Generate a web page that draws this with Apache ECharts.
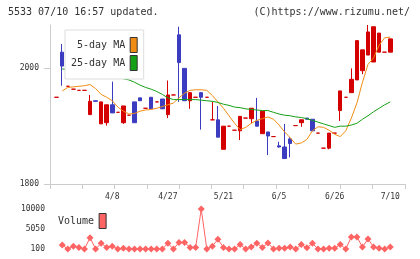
<!DOCTYPE html>
<html>
<head>
<meta charset="utf-8">
<script src="https://cdn.jsdelivr.net/npm/echarts@6/dist/echarts.min.js"></script>
<style>
  html, body { margin: 0; padding: 0; background: #fff; }
  #chart { width: 420px; height: 259px; }
</style>
</head>
<body>
<div id="chart"></div>
<script>
// 日足データ [open, close, low, high]
const ohlc = [
  [1950, 1950, 1950, 1950], [2028, 2004, 1970, 2042], [1969, 1969, 1969, 1969], [1964, 1964, 1964, 1964],
  [1962, 1962, 1962, 1962], [1962, 1962, 1962, 1962], [1920, 1943, 1920, 1954], [1944, 1943, 1943, 1944],
  [1904, 1942, 1904, 1942], [1906, 1937, 1901, 1937], [1937, 1923, 1923, 1977], [1924, 1924, 1924, 1924],
  [1906, 1935, 1904, 1935], [1919, 1919, 1919, 1919], [1942, 1906, 1906, 1942], [1949, 1944, 1944, 1949],
  [1931, 1931, 1931, 1931], [1950, 1930, 1930, 1950], [1942, 1942, 1942, 1942], [1947, 1930, 1930, 1947],
  [1920, 1954, 1914, 1979], [1954, 1954, 1954, 1954], [2058, 2010, 1942, 2072], [2000, 1944, 1944, 2000],
  [1944, 1958, 1930, 1958], [1950, 1950, 1950, 1950], [1958, 1950, 1894, 1958], [1950, 1950, 1950, 1950],
  [1911, 1911, 1911, 1942], [1911, 1881, 1881, 1935], [1860, 1900, 1860, 1900], [1900, 1900, 1900, 1900],
  [1893, 1893, 1893, 1893], [1892, 1917, 1876, 1917], [1914, 1914, 1914, 1914], [1913, 1931, 1905, 1931],
  [1909, 1900, 1900, 1949], [1887, 1926, 1887, 1926], [1890, 1883, 1850, 1890], [1882, 1882, 1882, 1882],
  [1866, 1864, 1863, 1873], [1864, 1844, 1844, 1904], [1878, 1870, 1846, 1881], [1901, 1901, 1901, 1901],
  [1906, 1911, 1899, 1911], [1914, 1912, 1912, 1914], [1912, 1892, 1892, 1912], [1888, 1888, 1888, 1888],
  [1862, 1862, 1862, 1862], [1862, 1888, 1860, 1888], [1888, 1888, 1888, 1888], [1927, 1961, 1909, 1961],
  [1950, 1950, 1950, 1950], [1958, 1981, 1958, 2000], [1980, 2048, 1980, 2048], [1996, 2032, 1990, 2032],
  [2023, 2063, 2023, 2075], [2011, 2072, 2011, 2072], [2028, 2061, 2028, 2061], [2028, 2028, 2028, 2028],
  [2028, 2051, 2028, 2051]
];

// 5日移動平均
const ma5 = [
  null, 1961, 1967, 1968, 1969, 1970, 1972, 1965, 1955, 1950, 1944, 1933, 1926, 1921, 1922, 1926,
  1928, 1929, 1931, 1934, 1937, 1940, 1949, 1957, 1962, 1963, 1963, 1962, 1953, 1942, 1931, 1918,
  1905, 1894, 1898, 1905, 1910, 1913, 1916, 1912, 1902, 1890, 1880, 1869, 1871, 1877, 1892, 1899,
  1898, 1893, 1886, 1882, 1892, 1914, 1940, 1976, 2007, 2018, 2040, 2053, 2054
];

// 25日移動平均
const ma25 = [
  null, 1999, 1998, 1997, 1996, 1995, 1993, 1992, 1990, 1988, 1986, 1984, 1982, 1980, 1976, 1971,
  1967, 1964, 1960, 1955, 1949, 1946, 1946, 1946, 1946, 1946, 1945, 1944, 1943, 1941, 1938, 1936,
  1933, 1932, 1930, 1929, 1928, 1927, 1927, 1924, 1921, 1919, 1918, 1916, 1915, 1913, 1910, 1907,
  1904, 1901, 1898, 1900, 1900, 1902, 1905, 1912, 1918, 1925, 1931, 1937, 1942
];

// 出来高
const volume = [
  null, 1100, 100, 800, 500, 100, 2900, 100, 1500, 500, 800, 100, 300, 100, 100, 100,
  100, 100, 100, 100, 1500, 100, 1700, 1700, 500, 500, 10000, 100, 800, 2500, 500, 100,
  100, 1200, 100, 600, 1500, 500, 1600, 100, 300, 300, 600, 100, 1200, 400, 1500, 100,
  100, 300, 300, 1200, 100, 3100, 3100, 600, 2600, 600, 300, 100, 600
];

// x軸ラベル（日付）
const tickIndex = [10, 20, 30, 40, 50, 60];
const tickDates = ['4/8', '4/27', '5/21', '6/5', '6/26', '7/10'];

const priceLabels = [1800, 2000];
const volumeLabels = [100, 5050, 10000];

const FONT = '"DejaVu Sans Mono", "Liberation Mono", monospace';
const RED = '#d40000';
const BLUE = '#3c3cc0';
const ORANGE = '#f08c14';
const GREEN = '#14a014';
const PINK = '#ff6464';
const AXIS_GRAY = '#cccccc';
const TEXT = '#333333';

const X_MIN = -1.2;
const X_MAX = 62.65;

// 目盛り線は等間隔 11 分割
const xTicks = [];
for (let k = 0; k <= 11; k++) {
  xTicks.push(X_MIN + (k * (X_MAX - X_MIN)) / 11);
}

const toPoints = arr =>
  arr.map((v, i) => [i, v]).filter(d => d[1] !== null);

// 桁区切りなしで表示
const plainNumber = v => String(Math.round(v));

const option = {
  animation: false,
  textStyle: { fontFamily: FONT },
  title: [
    {
      text: '5533 07/10 16:57 updated.',
      left: 8,
      top: 7,
      padding: 0,
      textStyle: { fontSize: 10, fontWeight: 'normal', color: TEXT, fontFamily: FONT }
    },
    {
      text: '(C)https://www.rizumu.net/',
      right: 10,
      top: 7,
      padding: 0,
      textStyle: { fontSize: 10, fontWeight: 'normal', color: TEXT, fontFamily: FONT }
    }
  ],
  legend: [
    {
      data: ['5-day MA', '25-day MA'],
      orient: 'vertical',
      align: 'right',
      left: 65,
      top: 30,
      icon: 'rect',
      itemWidth: 7,
      itemHeight: 15,
      itemGap: 2,
      padding: [7, 6, 8, 6],
      backgroundColor: '#fff',
      borderColor: '#dddddd',
      borderWidth: 1,
      selectedMode: false,
      itemStyle: { borderColor: '#333', borderWidth: 1 },
      textStyle: { fontSize: 10, color: TEXT, fontFamily: FONT }
    },
    {
      data: ['Volume'],
      orient: 'vertical',
      align: 'right',
      left: 58,
      top: 213,
      icon: 'rect',
      itemWidth: 7,
      itemHeight: 15,
      padding: 0,
      selectedMode: false,
      itemStyle: { borderColor: '#333', borderWidth: 1 },
      textStyle: { fontSize: 10, color: TEXT, fontFamily: FONT }
    }
  ],
  grid: [
    { left: 50, right: 15, top: 25, height: 159 },
    { left: 50, right: 15, top: 209, height: 40 }
  ],
  xAxis: [
    {
      type: 'value',
      gridIndex: 0,
      min: X_MIN,
      max: X_MAX,
      splitLine: { show: false },
      axisLine: { onZero: false, lineStyle: { color: AXIS_GRAY } },
      axisTick: { customValues: xTicks, length: 5, lineStyle: { color: AXIS_GRAY } },
      axisLabel: {
        customValues: tickIndex,
        formatter: v => tickDates[tickIndex.indexOf(Math.round(v))],
        fontSize: 8,
        color: TEXT,
        margin: 9,
        fontFamily: FONT
      }
    },
    {
      type: 'value',
      gridIndex: 1,
      min: X_MIN,
      max: X_MAX,
      show: false
    }
  ],
  yAxis: [
    {
      type: 'value',
      gridIndex: 0,
      min: 1800,
      max: 2075,
      splitLine: { show: false },
      axisLine: { show: true, onZero: false, lineStyle: { color: AXIS_GRAY } },
      axisTick: { show: true, customValues: priceLabels, length: 6, lineStyle: { color: AXIS_GRAY } },
      axisLabel: {
        customValues: priceLabels,
        formatter: plainNumber,
        fontSize: 8,
        color: TEXT,
        margin: 11,
        fontFamily: FONT
      }
    },
    {
      type: 'value',
      gridIndex: 1,
      min: 100,
      max: 10000,
      splitLine: { show: false },
      axisLine: { show: false, onZero: false },
      axisTick: { show: false },
      axisLabel: {
        customValues: volumeLabels,
        formatter: plainNumber,
        fontSize: 8,
        color: TEXT,
        margin: 5,
        fontFamily: FONT
      }
    }
  ],
  series: [
    {
      name: 'price',
      type: 'candlestick',
      xAxisIndex: 0,
      yAxisIndex: 0,
      barWidth: 4,
      encode: { x: 0, y: [1, 2, 3, 4] },
      itemStyle: {
        color: RED,
        color0: BLUE,
        borderColor: RED,
        borderColor0: BLUE,
        borderColorDoji: RED,
        borderWidth: 1
      },
      data: ohlc.map((d, i) => [i, d[0], d[1], d[2], d[3]])
    },
    {
      name: '5-day MA',
      type: 'line',
      xAxisIndex: 0,
      yAxisIndex: 0,
      color: ORANGE,
      showSymbol: false,
      lineStyle: { width: 1, color: ORANGE },
      data: toPoints(ma5)
    },
    {
      name: '25-day MA',
      type: 'line',
      xAxisIndex: 0,
      yAxisIndex: 0,
      color: GREEN,
      showSymbol: false,
      lineStyle: { width: 1, color: GREEN },
      data: toPoints(ma25)
    },
    {
      name: 'Volume',
      type: 'line',
      xAxisIndex: 1,
      yAxisIndex: 1,
      color: PINK,
      symbol: 'diamond',
      symbolSize: 7,
      showAllSymbol: true,
      lineStyle: { width: 1, color: PINK },
      itemStyle: { color: PINK },
      data: toPoints(volume)
    }
  ]
};

const myChart = echarts.init(document.getElementById('chart'));
myChart.setOption(option);
</script>
</body>
</html>
